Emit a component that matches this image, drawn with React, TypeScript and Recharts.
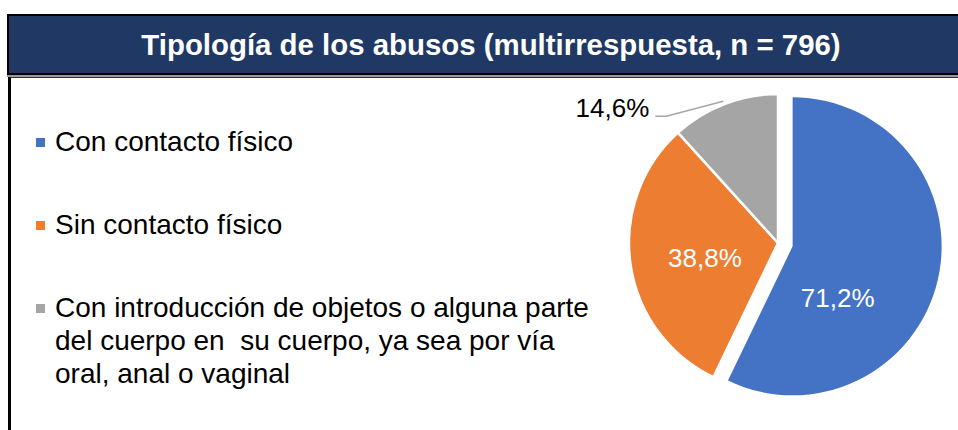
import React from 'react';
import { PieChart, Pie, Cell, Legend } from 'recharts';

const TITLE = 'Tipología de los abusos (multirrespuesta, n = 796)';
const CATEGORIES = [
  'Con contacto físico',
  'Sin contacto físico',
  'Con introducción de objetos o alguna parte del cuerpo en  su cuerpo, ya sea por vía oral, anal o vaginal',
];
const VALUES = [71.2, 38.8, 14.6];
const COLORS = ['#4472C4', '#ED7D31', '#A5A5A5'];

const data = CATEGORIES.map((name, i) => ({ name, value: VALUES[i] }));

const FONT = '"Liberation Sans", Arial, Helvetica, sans-serif';
const RAD = Math.PI / 180;
const CX = 778;
const CY = 243;
const R = 149;
const EXPLODE = 15;

// the first slice is pulled out along its mid angle
const total = VALUES.reduce((a, b) => a + b, 0);
const firstMid = 90 - (VALUES[0] / total) * 180;
const exDx = EXPLODE * Math.cos(firstMid * RAD);
const exDy = -EXPLODE * Math.sin(firstMid * RAD);

const fmt = (v: number) => v.toFixed(1).replace('.', ',') + '%';

// where the inside labels sit: shift from the mid angle and fraction of radius
const INSIDE_LABEL: ({ shift: number; r: number } | null)[] = [
  { shift: -36, r: 0.46 },
  { shift: 3, r: 0.5 },
  null,
];

const makeLabel = (show: number[]) => (props: any) => {
  const { cx, cy, midAngle, outerRadius, index, value } = props;
  if (!show.includes(index)) return null;
  const spot = INSIDE_LABEL[index];
  if (spot) {
    const a = (midAngle + spot.shift) * RAD;
    const x = cx + outerRadius * spot.r * Math.cos(a);
    const y = cy - outerRadius * spot.r * Math.sin(a);
    return (
      <text x={x} y={y} fill="#fff" textAnchor="middle" dominantBaseline="central" fontSize={26} fontFamily={FONT}>
        {fmt(value)}
      </text>
    );
  }
  // outside label with a leader line
  const a = midAngle * RAD;
  const x0 = cx + (outerRadius + 3) * Math.cos(a);
  const y0 = cy - (outerRadius + 3) * Math.sin(a);
  const x1 = x0 - 57;
  const y1 = y0 + 15;
  const x2 = x1 - 11;
  return (
    <g>
      <path d={`M${x0},${y0}L${x1},${y1}L${x2},${y1}`} stroke="#A6A6A6" strokeWidth={1.5} fill="none" />
      <text x={x2 - 6} y={y1 + 1} fill="#000" textAnchor="end" fontSize={26} fontFamily={FONT}>
        {fmt(value)}
      </text>
    </g>
  );
};

const renderLegend = () => (
  <div style={{ fontFamily: FONT, fontSize: 28, lineHeight: '33px', color: '#000', textAlign: 'left' }}>
    {CATEGORIES.map((c, i) => (
      <div
        key={c}
        style={{ position: 'relative', paddingLeft: 21, width: 540, whiteSpace: 'pre-wrap', marginBottom: 50 }}
      >
        <span
          style={{ position: 'absolute', left: 2, top: 13, width: 9, height: 9, background: COLORS[i] }}
        />
        {c}
      </div>
    ))}
  </div>
);

export default function App() {
  return (
    <div style={{ position: 'absolute', left: 0, top: 0, width: 958, height: 430, overflow: 'hidden', background: '#fff' }}>
      {/* title bar */}
      <div
        style={{
          position: 'absolute',
          left: 7,
          top: 14,
          width: 968,
          height: 61,
          boxSizing: 'border-box',
          background: '#1F3864',
          border: '2px solid #000',
          boxShadow: '0 2px 0 #9A9A9A',
          display: 'flex',
          alignItems: 'center',
          justifyContent: 'center',
          paddingTop: 1,
          color: '#fff',
          fontFamily: FONT,
          fontWeight: 'bold',
          fontSize: 29.4,
        }}
      >
        {TITLE}
      </div>
      {/* body frame */}
      <div
        style={{
          position: 'absolute',
          left: 8,
          top: 77,
          width: 970,
          height: 380,
          boxSizing: 'border-box',
          borderLeft: '3px solid #000',
          borderTop: '1.5px solid #333',
        }}
      />
      <div style={{ position: 'absolute', left: 0, top: 0 }}>
        <PieChart width={958} height={430} margin={{ top: 0, right: 0, bottom: 0, left: 0 }}>
          <Legend
            content={renderLegend}
            layout="vertical"
            align="center"
            verticalAlign="middle"
            wrapperStyle={{ left: 34, top: 124.5, width: 570, height: 'auto' }}
          />
          <Pie
            data={data}
            dataKey="value"
            nameKey="name"
            cx={CX}
            cy={CY}
            outerRadius={R}
            startAngle={90}
            endAngle={-270}
            stroke="#fff"
            strokeWidth={2.5}
            labelLine={false}
            label={makeLabel([1, 2])}
            isAnimationActive={false}
          >
            {data.map((d, i) => (
              <Cell key={d.name} fill={i === 0 ? 'none' : COLORS[i]} stroke={i === 0 ? 'none' : '#fff'} />
            ))}
          </Pie>
          <Pie
            data={data}
            dataKey="value"
            nameKey="name"
            cx={CX + exDx}
            cy={CY + exDy}
            outerRadius={R}
            startAngle={90}
            endAngle={-270}
            stroke="none"
            labelLine={false}
            label={makeLabel([0])}
            legendType="none"
            isAnimationActive={false}
          >
            {data.map((d, i) => (
              <Cell key={d.name} fill={i === 0 ? COLORS[0] : 'none'} stroke="none" />
            ))}
          </Pie>
        </PieChart>
      </div>
    </div>
  );
}
